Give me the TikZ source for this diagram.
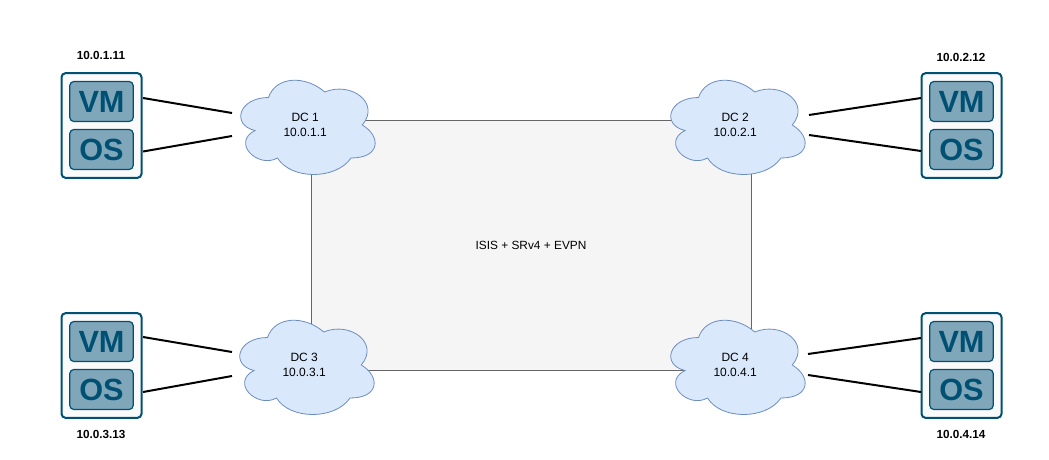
\documentclass[tikz,border=0pt]{standalone}
\usepackage{fontspec}
\setmainfont{Liberation Sans}
\definecolor{srvline}{HTML}{005073}
\definecolor{srvfill}{HTML}{7FA6B9}
\definecolor{srvbg}{HTML}{FAFAFA}
\definecolor{cloudfill}{HTML}{DAE8FC}
\definecolor{cloudline}{HTML}{6C8EBF}
\definecolor{corefill}{HTML}{F5F5F5}
\definecolor{coreline}{HTML}{666666}
\tikzset{
  srvbox/.style={draw=srvline,line width=1.5pt,fill=srvbg,rounded corners=3pt,minimum width=60pt,minimum height=78.5pt,inner sep=0pt},
  srvpart/.style={draw=srvline,line width=0.9pt,fill=srvfill,rounded corners=3pt,minimum width=47.5pt,minimum height=30pt,inner sep=0pt,text=srvline,font=\fontsize{23}{24}\selectfont\bfseries},
  corebox/.style={draw=coreline,line width=0.6pt,fill=corefill,minimum width=330pt,minimum height=187.5pt,inner sep=0pt,font=\fontsize{8.9}{11}\selectfont},
  cloudshape/.style={draw=cloudline,line width=0.6pt,fill=cloudfill},
  cloudtext/.style={align=center,font=\fontsize{9}{11.2}\selectfont,inner sep=0pt},
  addr/.style={font=\fontsize{8.8}{10}\selectfont\bfseries,inner sep=0pt},
  link/.style={draw=black,line width=1.5pt}
}
% #1 name, #2 cx, #3 cy, #4 text (box 150 x 110 px)
\newcommand{\dccloud}[4]{%
  \begin{scope}[shift={(#2-75,#3-55)},x=112.5pt,y=-82.5pt]
    \path[cloudshape] (0.25,0.25)
      .. controls (0.05,0.25) and (0,0.5) .. (0.16,0.55)
      .. controls (0,0.66) and (0.18,0.9) .. (0.31,0.8)
      .. controls (0.4,1) and (0.7,1) .. (0.8,0.8)
      .. controls (1,0.8) and (1,0.6) .. (0.875,0.5)
      .. controls (1,0.3) and (0.8,0.1) .. (0.625,0.2)
      .. controls (0.5,0.05) and (0.3,0.05) .. (0.25,0.25) -- cycle;
  \end{scope}
  \node[cloudtext] (#1) at (#2-0.8,#3) {#4};
}
% #1 name, #2 left, #3 top
\newcommand{\vmserver}[3]{%
  \node[srvbox] (#1) at (#2+40.5,#3+52.5) {};
  \node[srvpart] (#1vm) at (#2+40.5,#3+28.5) {VM};
  \node[srvpart] (#1os) at (#2+40.5,#3+76.5) {OS};
}
\begin{document}
\begin{tikzpicture}[x=0.75pt,y=-0.75pt]
\useasboundingbox[fill=white] (0,0) rectangle (1049,460);
\node[corebox] (core) at (531,245) {\raisebox{-0.6pt}{ISIS + SRv4 + EVPN}};

\dccloud{dca}{306}{125}{DC 1\\10.0.1.1}
\dccloud{dcb}{736}{125}{DC 2\\10.0.2.1}
\dccloud{dcc}{305}{365}{DC 3\\10.0.3.1}
\dccloud{dcd}{736}{365}{DC 4\\10.0.4.1}

\vmserver{sa}{61}{73}
\vmserver{sb}{921}{73}
\vmserver{sc}{61}{313}
\vmserver{sd}{921}{313}

\node[addr] (la) at (101,55) {10.0.1.11};
\node[addr] (lb) at (961,57) {10.0.2.12};
\node[addr] (lc) at (101,434) {10.0.3.13};
\node[addr] (ld) at (961,434) {10.0.4.14};

\coordinate (savm) at (143,98);   \coordinate (saos) at (143,151.5);
\coordinate (caa) at (232,113);   \coordinate (cab) at (232,136);
\coordinate (sbvm) at (921,98);   \coordinate (sbos) at (921,151);
\coordinate (cba) at (809,115);   \coordinate (cbb) at (809,135);
\coordinate (scvm) at (143,337);  \coordinate (scos) at (143,392);
\coordinate (cca) at (232,352);   \coordinate (ccb) at (232,376);
\coordinate (sdvm) at (921,338);  \coordinate (sdos) at (921,392);
\coordinate (cda) at (808,354);   \coordinate (cdb) at (808,375);

\draw[link] (savm) -- (caa);
\draw[link] (saos) -- (cab);
\draw[link] (sbvm) -- (cba);
\draw[link] (sbos) -- (cbb);
\draw[link] (scvm) -- (cca);
\draw[link] (scos) -- (ccb);
\draw[link] (sdvm) -- (cda);
\draw[link] (sdos) -- (cdb);
\end{tikzpicture}
\end{document}
